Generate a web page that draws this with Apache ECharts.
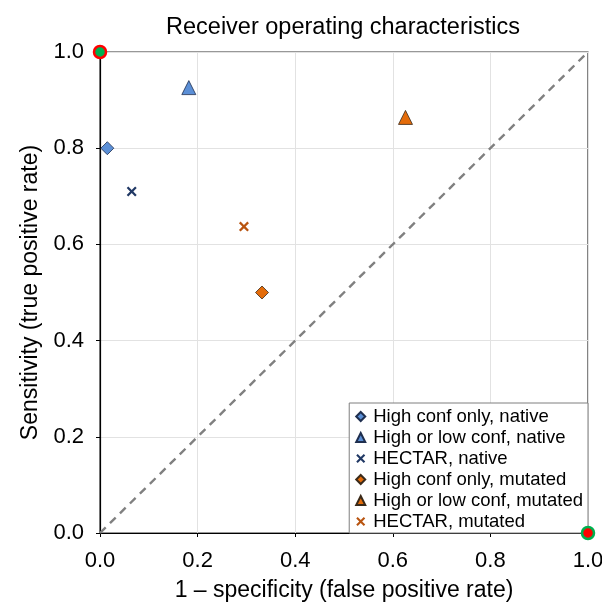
<!DOCTYPE html>
<html><head><meta charset="utf-8">
<script src="https://cdn.jsdelivr.net/npm/echarts@6/dist/echarts.min.js"></script>
<style>html,body{margin:0;padding:0;background:#fff}#c{width:602px;height:602px}</style>
</head><body><div id="c"></div>
<script>
var seriesNames = ['High conf only, native','High or low conf, native','HECTAR, native','High conf only, mutated','High or low conf, mutated','HECTAR, mutated'];
var hcNative = [[0.015, 0.80]];
var hlNative = [[0.182, 0.926]];
var hecNative = [[0.065, 0.71]];
var hcMut = [[0.332, 0.50]];
var hlMut = [[0.626, 0.864]];
var hecMut = [[0.295, 0.637]];
var perfectPoint = [[0, 1]];
var worstPoint = [[1, 0]];
var diagonal = [[0, 0], [1, 1]];

var X = 'path://M0,1.6 L1.6,0 L5,3.4 L8.4,0 L10,1.6 L6.6,5 L10,8.4 L8.4,10 L5,6.6 L1.6,10 L0,8.4 L3.4,5 Z';
var font = 'Liberation Sans, Arial, sans-serif';
function axis(name, gap, margin) {
  return {
    type: 'value', min: 0, max: 1, interval: 0.2,
    name: name, nameLocation: 'middle', nameGap: gap,
    nameTextStyle: {fontSize: 23, color: '#000', fontFamily: font},
    axisLine: {show: true, onZero: false, lineStyle: {color: '#000', width: 1.2}},
    axisTick: {show: true, length: 4, lineStyle: {color: '#000'}},
    axisLabel: {fontSize: 22, color: '#000', fontFamily: font, margin: margin, formatter: function(v){return v.toFixed(1);}},
    splitLine: {show: true, lineStyle: {color: '#e2e2e2', width: 1}}
  };
}
var chart = echarts.init(document.getElementById('c'));
chart.setOption({
  animation: false,
  backgroundColor: '#fff',
  title: {text: 'Receiver operating characteristics', left: 338, top: 11, textAlign: 'center',
    textStyle: {fontSize: 23.5, fontWeight: 'normal', color: '#000', fontFamily: font}},
  grid: {left: 100, right: 14, top: 52, bottom: 69, containLabel: false, outerBoundsMode: 'none',
    show: true, borderColor: '#333', borderWidth: 1.2, backgroundColor: 'transparent'},
  xAxis: axis('1 \u2013 specificity (false positive rate)', 46, 17),
  yAxis: axis('Sensitivity (true positive rate)', 58, 16),
  legend: {
    data: seriesNames, orient: 'vertical', right: 14, bottom: 69,
    backgroundColor: '#fff', borderColor: '#7f7f7f', borderWidth: 1,
    padding: [4, 5, 2, 6], itemGap: 2, itemWidth: 9, itemHeight: 9,
    textStyle: {fontSize: 18.5, lineHeight: 17, color: '#000', fontFamily: font, padding: [0, 0, 0, 3]}
  },
  series: [
    {type: 'line', data: diagonal, symbol: 'none', silent: true, z: 1,
      lineStyle: {color: '#808080', width: 2.4, type: [8, 6]}},
    {name: seriesNames[0], type: 'scatter', data: hcNative, symbol: 'diamond', symbolSize: 13,
      itemStyle: {color: '#5B8FD6', borderColor: '#1f2f4f', borderWidth: 0.8, opacity: 1}},
    {name: seriesNames[1], type: 'scatter', data: hlNative, symbol: 'triangle', symbolSize: 14,
      itemStyle: {color: '#5B8FD6', borderColor: '#1f2f4f', borderWidth: 0.8, opacity: 1}},
    {name: seriesNames[2], type: 'scatter', data: hecNative, symbol: X, symbolSize: 10,
      itemStyle: {color: '#203864', opacity: 1}},
    {name: seriesNames[3], type: 'scatter', data: hcMut, symbol: 'diamond', symbolSize: 13,
      itemStyle: {color: '#E46C0A', borderColor: '#3a2a1a', borderWidth: 0.8, opacity: 1}},
    {name: seriesNames[4], type: 'scatter', data: hlMut, symbol: 'triangle', symbolSize: 14,
      itemStyle: {color: '#E46C0A', borderColor: '#3a2a1a', borderWidth: 0.8, opacity: 1}},
    {name: seriesNames[5], type: 'scatter', data: hecMut, symbol: X, symbolSize: 10,
      itemStyle: {color: '#B85410', opacity: 1}},
    {type: 'scatter', data: perfectPoint, symbol: 'circle', symbolSize: 12, clip: false, z: 5,
      itemStyle: {color: '#00B050', borderColor: '#FF0000', borderWidth: 2.5, opacity: 1}},
    {type: 'scatter', data: worstPoint, symbol: 'circle', symbolSize: 12, clip: false, z: 5,
      itemStyle: {color: '#FF0000', borderColor: '#00B050', borderWidth: 2.5, opacity: 1}}
  ]
});
</script></body></html>
